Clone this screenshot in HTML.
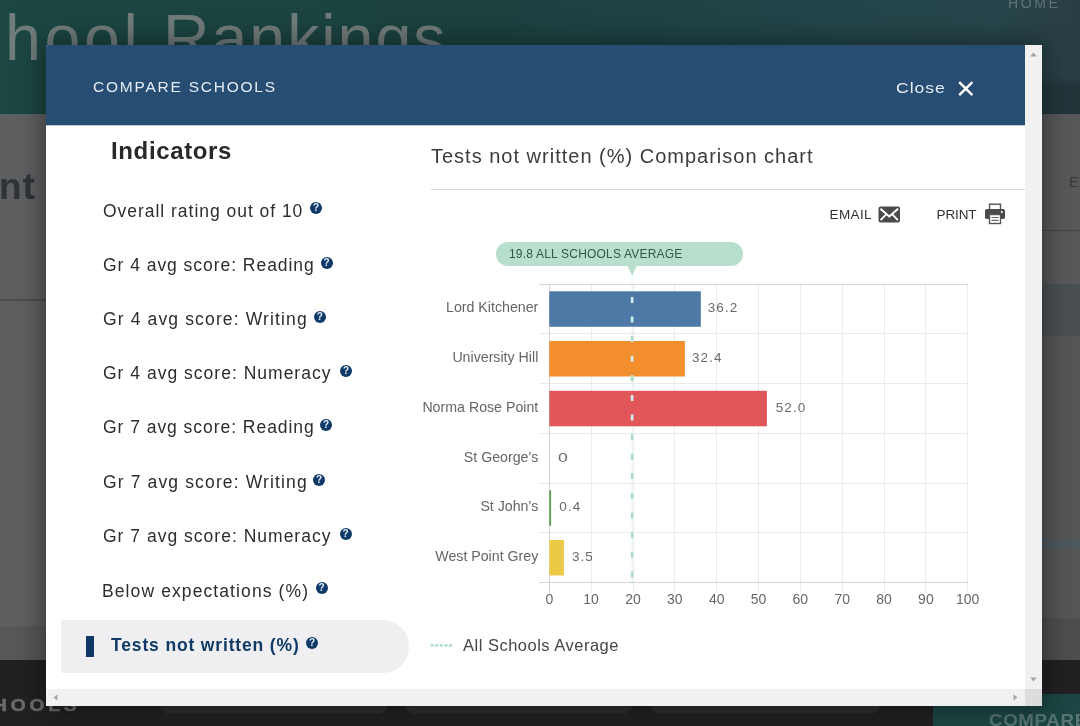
<!DOCTYPE html>
<html>
<head>
<meta charset="utf-8">
<title>Compare Schools</title>
<style>
*{box-sizing:border-box;margin:0;padding:0}
html,body{width:1080px;height:726px;overflow:hidden}
body{position:relative;background:#5e5f61;font-family:"Liberation Sans",sans-serif;color:#2a2a2a}
.abs{position:absolute}
#modal,.bt,#nt,#hools,#cmptxt,#home,#rE,#osm{will-change:transform}
/* ---------- dimmed page behind ---------- */
#topband{left:0;top:0;width:1080px;height:114px;background:linear-gradient(90deg,#1b4642 0%,#1b413f 45%,#214448 72%,#26464b 92%,#2a3e44 100%)}
.bt{top:0.6px;font-size:64.5px;line-height:74px;color:#707c7a;white-space:nowrap}
#home{left:1008px;top:-5px;font-size:14px;line-height:16px;color:#5f7477;letter-spacing:2.6px}
#nt{left:-1px;top:164.5px;font-size:37px;line-height:44px;color:#2f3236;font-weight:bold;white-space:nowrap;letter-spacing:1px}
#lline{left:0;top:299px;width:46px;height:2px;background:#4a4b4d}
#rgray{left:1042px;top:114px;width:38px;height:546px;background:#58585a}
#rline{left:1042px;top:230px;width:38px;height:1px;background:#454547}
#rmap1{left:1042px;top:284px;width:38px;height:52px;background:#4a5052}
#rmap2{left:1042px;top:336px;width:38px;height:282px;background:#565655}
#rmap3{left:1042px;top:618px;width:38px;height:42px;background:#4e4e50}
#rE{left:1069px;top:174px;font-size:15px;line-height:16px;color:#38383a}
#osm{left:1040px;top:537px;font-size:12px;line-height:14px;color:#3b5d70;white-space:nowrap}
#lband{left:0;top:626px;width:46px;height:35px;background:#565759}
#botbar{left:0;top:660px;width:1080px;height:66px;background:#212123}
.slot{top:690px;height:24px;border-radius:12px;background:#2d2d2f}
#hools{left:-7.2px;top:696px;font-size:16px;line-height:20px;font-weight:bold;color:#6b6b6d;-webkit-text-stroke:0.5px #6b6b6d;letter-spacing:3.2px;transform:scaleX(1.2);transform-origin:0 0;white-space:nowrap}
#cmpbtn{left:933px;top:694px;width:147px;height:32px;background:#1b4643}
#cmptxt{left:989px;top:711px;font-size:17px;line-height:20px;font-weight:bold;color:#587571;letter-spacing:0.6px;white-space:nowrap;transform:scaleX(1.1);transform-origin:0 0}
/* ---------- modal ---------- */
#modal{left:46px;top:45px;width:996px;height:661px;background:#fff;border-radius:3px 0 0 0;box-shadow:0 0 26px 4px rgba(0,0,0,.38)}
#mhead{left:0;top:0;width:979px;height:81px;background:linear-gradient(#274d73 0,#274d73 80px,#b9c6d3 80px,#b9c6d3 81px);border-radius:3px 0 0 0}
#mtitle{left:47px;top:33px;font-size:15.5px;line-height:18px;color:#e3ecf4;letter-spacing:1.77px;white-space:nowrap}
#close{left:850px;top:33.5px;font-size:15.5px;line-height:18px;color:#e3ecf4;letter-spacing:0.9px;white-space:nowrap;transform:scaleX(1.13);transform-origin:0 0}
#vscroll{left:979px;top:0;width:17px;height:644px;background:#f1f1f1}
#hscroll{left:0;top:644px;width:979px;height:17px;background:#f1f1f1}
#corner{left:979px;top:644px;width:17px;height:17px;background:#dcdcdc}
.arr{width:0;height:0;border:4px solid transparent}

/* ---------- left menu ---------- */
#ind{left:65px;top:92px;font-size:24px;line-height:28px;font-weight:bold;color:#27292c;letter-spacing:0.63px;white-space:nowrap}
.mi{left:57px;font-size:17.5px;line-height:22px;color:#2b2d30;letter-spacing:0.55px;white-space:nowrap}
.q{width:12px;height:12px;border-radius:50%;background:#0f3a68;color:#e6f1fa;font-size:10px;line-height:12.4px;font-weight:bold;text-align:center;letter-spacing:0}
#sel{left:15px;top:575px;width:348px;height:53px;background:#efeff1;border-radius:2px 27px 27px 2px}
#selbar{left:40px;top:591px;width:8px;height:21px;background:#0d3865}
#seltxt{left:65px;top:589px;font-size:17.5px;line-height:22px;font-weight:bold;color:#113b66;letter-spacing:0.85px;white-space:nowrap}

/* ---------- right column ---------- */
#ctitle{left:385px;top:99px;font-size:20px;line-height:24px;color:#3a3c3f;letter-spacing:1.0px;white-space:nowrap}
#divider{left:385px;top:144px;width:594px;height:1px;background:#d9d9d9}
.act{top:162px;font-size:13.5px;line-height:16px;color:#333;letter-spacing:0.4px;white-space:nowrap}
#avgpill{left:450px;top:197px;width:247px;height:24px;border-radius:12px;background:#b7dfcc}
#avgtxt{left:463px;top:202px;font-size:12px;line-height:14px;color:#33584b;letter-spacing:0.2px;white-space:nowrap}
.yl{font-size:14.2px;line-height:16px;color:#666;white-space:nowrap;text-align:right;width:120px;left:372.3px}
.xl{font-size:14px;line-height:16px;color:#666;white-space:nowrap;text-align:center;width:40px;top:546px}
.vl{font-size:13.5px;line-height:16px;color:#6a6a6a;white-space:nowrap;letter-spacing:1.05px;transform-origin:0 50%}
#legtxt{left:417px;top:590px;font-size:16.5px;line-height:20px;color:#44464a;letter-spacing:0.5px;white-space:nowrap}
#chart{left:0;top:0}
</style>
</head>
<body>
<!-- dimmed page behind the modal -->
<div id="topband" class="abs"></div>
<div class="abs bt" style="left:-31.4px;letter-spacing:3.66px">chool</div>
<div class="abs bt" style="left:162.7px;letter-spacing:1.94px">Rankings</div>
<div id="home" class="abs">HOME</div>
<div id="nt" class="abs">nt</div>
<div id="lline" class="abs"></div>
<div class="abs" style="left:1042px;top:76px;width:38px;height:38px;background:linear-gradient(rgba(0,0,0,0),rgba(0,0,0,.16) 30%)"></div>
<div id="rgray" class="abs"></div>
<div id="rline" class="abs"></div>
<div id="rmap1" class="abs"></div>
<div id="rmap2" class="abs"></div>
<div id="rmap3" class="abs"></div>
<div id="rE" class="abs">E</div>
<div id="osm" class="abs">OpenStreetMap</div>
<div id="lband" class="abs"></div>
<div id="botbar" class="abs"></div>
<div class="abs slot" style="left:158px;width:231px"></div>
<div class="abs slot" style="left:404px;width:230px"></div>
<div class="abs slot" style="left:650px;width:231px"></div>
<div id="hools" class="abs">HOOLS</div>
<div id="cmpbtn" class="abs"></div>
<div id="cmptxt" class="abs">COMPARE</div>

<!-- modal -->
<div id="modal" class="abs">
  <div id="mhead" class="abs"></div>
  <div id="mtitle" class="abs">COMPARE SCHOOLS</div>
  <div id="close" class="abs">Close</div>
  <div id="ind" class="abs">Indicators</div>
  <div class="abs mi" style="top:154.7px;letter-spacing:0.97px">Overall rating out of 10</div>
  <div class="abs q" style="left:264.0px;top:157.0px">?</div>
  <div class="abs mi" style="top:209.4px;letter-spacing:0.96px">Gr 4 avg score: Reading</div>
  <div class="abs q" style="left:274.5px;top:212.0px">?</div>
  <div class="abs mi" style="top:263.2px;letter-spacing:1.14px">Gr 4 avg score: Writing</div>
  <div class="abs q" style="left:267.7px;top:266.0px">?</div>
  <div class="abs mi" style="top:317.4px;letter-spacing:1.01px">Gr 4 avg score: Numeracy</div>
  <div class="abs q" style="left:294.0px;top:320.0px">?</div>
  <div class="abs mi" style="top:371.2px;letter-spacing:0.96px">Gr 7 avg score: Reading</div>
  <div class="abs q" style="left:274.0px;top:374.0px">?</div>
  <div class="abs mi" style="top:425.5px;letter-spacing:1.14px">Gr 7 avg score: Writing</div>
  <div class="abs q" style="left:267.0px;top:429.0px">?</div>
  <div class="abs mi" style="top:479.9px;letter-spacing:1.01px">Gr 7 avg score: Numeracy</div>
  <div class="abs q" style="left:293.6px;top:483.0px">?</div>
  <div class="abs mi" style="top:534.5px;letter-spacing:1.10px;left:56px">Below expectations (%)</div>
  <div class="abs q" style="left:269.6px;top:537.0px">?</div>
  <div id="sel" class="abs"></div>
  <div id="selbar" class="abs"></div>
  <div id="seltxt" class="abs">Tests not written (%)</div>
  <div class="abs q" style="left:260.0px;top:591.5px">?</div>
  <div id="ctitle" class="abs">Tests not written (%) Comparison chart</div>
  <div id="divider" class="abs"></div>
  <div class="abs act" style="left:783.5px">EMAIL</div>
  <div class="abs act" style="left:890.5px;letter-spacing:-0.1px">PRINT</div>
  <svg class="abs" style="left:832px;top:161px" width="23" height="17" viewBox="0 0 23 17"><rect x="0.5" y="0.5" width="21.5" height="16" rx="2" fill="#4b4b4d"/><path d="M2.4 2.8 L11.25 10.4 L20.1 2.8" fill="none" stroke="#fff" stroke-width="2"/><path d="M2.6 14.2 L8.2 8.4 M19.9 14.2 L14.3 8.4" fill="none" stroke="#fff" stroke-width="1.8"/></svg>
  <svg class="abs" style="left:939px;top:158px" width="20" height="22" viewBox="0 0 20 22"><rect x="4.5" y="1.2" width="11" height="6" fill="#fff" stroke="#555" stroke-width="1.4"/><rect x="0" y="6" width="20" height="10" rx="1.8" fill="#4b4b4d"/><rect x="4.5" y="11.5" width="11" height="9" fill="#fff" stroke="#555" stroke-width="1.4"/><path d="M6.5 14.5h7M6.5 17.3h7" stroke="#666" stroke-width="1.2"/><circle cx="16.8" cy="9" r="1" fill="#fff"/></svg>
  <svg id="chart" class="abs" width="979" height="644" viewBox="0 0 979 644">
    <g stroke="#ebebeb" stroke-width="1" shape-rendering="crispEdges"><line x1="545.1" y1="239.0" x2="545.1" y2="547.5"/><line x1="587.0" y1="239.0" x2="587.0" y2="547.5"/><line x1="628.8" y1="239.0" x2="628.8" y2="547.5"/><line x1="670.7" y1="239.0" x2="670.7" y2="547.5"/><line x1="712.5" y1="239.0" x2="712.5" y2="547.5"/><line x1="754.3" y1="239.0" x2="754.3" y2="547.5"/><line x1="796.2" y1="239.0" x2="796.2" y2="547.5"/><line x1="838.0" y1="239.0" x2="838.0" y2="547.5"/><line x1="879.9" y1="239.0" x2="879.9" y2="547.5"/><line x1="921.7" y1="239.0" x2="921.7" y2="547.5"/><line x1="493.3" y1="288.8" x2="921.7" y2="288.8"/><line x1="493.3" y1="338.5" x2="921.7" y2="338.5"/><line x1="493.3" y1="388.2" x2="921.7" y2="388.2"/><line x1="493.3" y1="438.0" x2="921.7" y2="438.0"/><line x1="493.3" y1="487.8" x2="921.7" y2="487.8"/></g>
    <g stroke="#d4d4d4" stroke-width="1" shape-rendering="crispEdges"><line x1="493.3" y1="239.0" x2="921.7" y2="239.0"/><line x1="503.3" y1="239.0" x2="503.3" y2="547.5"/><line x1="493.3" y1="537.5" x2="921.7" y2="537.5"/></g>
    <g><rect x="503.3" y="246.3" width="151.5" height="35.5" fill="#4e79a7"/><rect x="503.3" y="296.0" width="135.6" height="35.5" fill="#f28e2b"/><rect x="503.3" y="345.8" width="217.6" height="35.5" fill="#e15759"/><rect x="503.3" y="445.3" width="1.8" height="35.5" fill="#59a14f"/><rect x="503.3" y="495.0" width="14.6" height="35.5" fill="#edc948"/></g>
    <defs><clipPath id="onbars"><rect x="503.3" y="246.3" width="217.6" height="35.5"/><rect x="503.3" y="296.0" width="135.6" height="35.5"/><rect x="503.3" y="345.8" width="217.6" height="35.5"/></clipPath><clipPath id="offbars"><rect x="580" y="225" width="12" height="21.3"/><rect x="580" y="281.8" width="12" height="14.2"/><rect x="580" y="331.5" width="12" height="14.3"/><rect x="580" y="381.3" width="12" height="170"/></clipPath></defs>
    <line x1="586.1" y1="231.0" x2="586.1" y2="541" stroke="#a9dcc8" stroke-width="1" opacity="0.28" clip-path="url(#offbars)"/>
    <line x1="586.1" y1="239.0" x2="586.1" y2="537.5" stroke="#a8dbc8" stroke-width="2.5" stroke-dasharray="6 13.6" stroke-dashoffset="6.7" clip-path="url(#offbars)"/>
    <line x1="586.1" y1="239.0" x2="586.1" y2="537.5" stroke="#d3eef2" stroke-width="2.6" stroke-dasharray="6 13.6" stroke-dashoffset="6.7" clip-path="url(#onbars)"/>
    <path d="M581.4 220.5 L590.8 220.5 L586.1 231 Z" fill="#b7dfcc"/>
    <g><rect x="384.6" y="599.2" width="3" height="2.4" fill="#a9dcc8"/><rect x="389.2" y="599.2" width="3" height="2.4" fill="#a9dcc8"/><rect x="393.8" y="599.2" width="3" height="2.4" fill="#a9dcc8"/><rect x="398.4" y="599.2" width="3" height="2.4" fill="#a9dcc8"/><rect x="403.0" y="599.2" width="3" height="2.4" fill="#a9dcc8"/></g>
  </svg>
  <div id="avgpill" class="abs"></div>
  <div id="avgtxt" class="abs">19.8 ALL SCHOOLS AVERAGE</div>
  <div class="abs yl" style="top:254.4px">Lord Kitchener</div>
  <div class="abs vl" style="left:661.8px;top:255.4px">36.2</div>
  <div class="abs yl" style="top:304.1px">University Hill</div>
  <div class="abs vl" style="left:646.0px;top:305.1px">32.4</div>
  <div class="abs yl" style="top:353.9px">Norma Rose Point</div>
  <div class="abs vl" style="left:729.8px;top:354.9px">52.0</div>
  <div class="abs yl" style="top:403.6px">St George's</div>
  <div class="abs vl" style="left:511.5px;top:404.6px;transform:scaleX(1.3)">0</div>
  <div class="abs yl" style="top:453.4px">St John's</div>
  <div class="abs vl" style="left:513.3px;top:454.4px">0.4</div>
  <div class="abs yl" style="top:503.1px">West Point Grey</div>
  <div class="abs vl" style="left:526.0px;top:504.1px">3.5</div>
  <div class="abs xl" style="left:483.3px">0</div>
  <div class="abs xl" style="left:525.1px">10</div>
  <div class="abs xl" style="left:567.0px">20</div>
  <div class="abs xl" style="left:608.8px">30</div>
  <div class="abs xl" style="left:650.7px">40</div>
  <div class="abs xl" style="left:692.5px">50</div>
  <div class="abs xl" style="left:734.3px">60</div>
  <div class="abs xl" style="left:776.2px">70</div>
  <div class="abs xl" style="left:818.0px">80</div>
  <div class="abs xl" style="left:859.9px">90</div>
  <div class="abs xl" style="left:901.7px">100</div>
  <div id="legtxt" class="abs">All Schools Average</div>
  <svg class="abs" style="left:911px;top:35px" width="18" height="18" viewBox="0 0 18 18"><path d="M2.2 2.2 L15.4 15.2 M15.4 2.2 L2.2 15.2" stroke="#fff" stroke-width="2.5" fill="none"/></svg>
  <div id="vscroll" class="abs"></div>
  <div id="hscroll" class="abs"></div>
  <div id="corner" class="abs"></div>
  <svg class="abs" style="left:979px;top:0" width="17" height="644" viewBox="0 0 17 644"><path d="M5.2 11.5 L11.8 11.5 L8.5 7.6 Z" fill="#a6a6a6"/><path d="M5.2 632.5 L11.8 632.5 L8.5 636.4 Z" fill="#a6a6a6"/></svg>
  <svg class="abs" style="left:0;top:644px" width="979" height="17" viewBox="0 0 979 17"><path d="M11.5 5.2 L11.5 11.8 L7.6 8.5 Z" fill="#a6a6a6"/><path d="M967.5 5.2 L967.5 11.8 L971.4 8.5 Z" fill="#a6a6a6"/></svg>
</div>
</body>
</html>
